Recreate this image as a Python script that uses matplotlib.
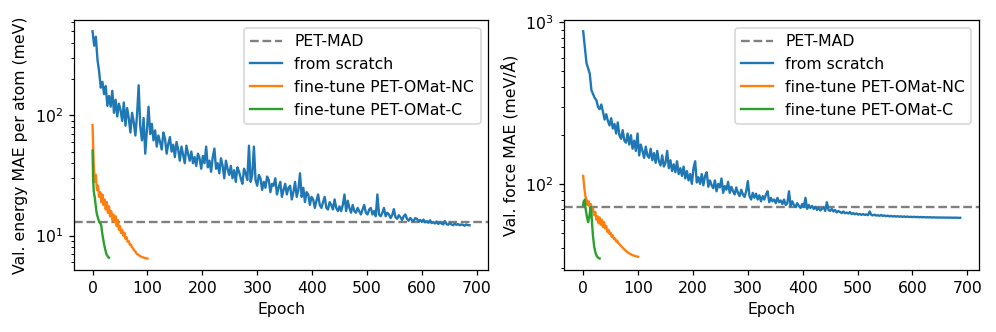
import numpy as np
import matplotlib
matplotlib.use("Agg")
import matplotlib.pyplot as plt

# epochs of the values
scratch_epochs = np.arange(0, 690, 3)
nc_epochs = np.arange(0, 101, 2)
c_epochs = np.arange(0, 31, 1)

# energy MAE per atom (meV)
pet_mad_energy = 13.0
energy_scratch = [
    500, 380, 450, 290, 230, 170, 190, 150, 175, 120,
    145, 118, 160, 105, 135, 98, 125, 110, 90, 128,
    82, 115, 95, 72, 105, 88, 68, 100, 178, 80,
    62, 95, 48, 75, 118, 70, 85, 62, 75, 55,
    68, 60, 52, 72, 64, 48, 58, 66, 50, 57,
    45, 60, 52, 42, 55, 47, 40, 56, 48, 42,
    50, 40, 45, 38, 48, 44, 36, 46, 40, 55,
    37, 42, 34, 45, 53, 36, 40, 33, 44, 38,
    30, 42, 36, 32, 38, 30, 35, 28, 37, 34,
    30, 27, 36, 33, 29, 56, 28, 32, 55, 29,
    26, 32, 30, 24, 28, 25, 31, 29, 23, 27,
    26, 30, 22, 25, 28, 21, 24, 27, 22, 25,
    26, 20, 23, 28, 21, 24, 33, 21, 25, 19,
    23, 22, 18, 21, 20, 17, 19.5, 22, 18, 17,
    19, 21, 17, 16.5, 19, 18, 16.5, 20, 17, 16,
    17.5, 16, 18, 22, 16, 19.5, 17, 15.5, 18, 16,
    15.5, 17, 16, 15, 16.5, 18, 15.5, 15, 16.5, 17,
    15, 16, 14.5, 22, 15, 14.5, 15.5, 17, 14.5, 15.5,
    15, 14, 14.8, 16.6, 14.2, 13.8, 14.8, 14.2, 13.5, 14.5,
    15, 13.8, 13.3, 14, 13.5, 13.2, 14, 13.8, 13.1, 13.5,
    13, 13.6, 12.9, 13.2, 12.8, 13.4, 12.7, 13, 12.6, 13.1,
    12.5, 12.9, 12.6, 12.4, 13.2, 12.5, 12.3, 12.7, 12.4, 12.2,
    12.6, 12.3, 12.5, 12.2, 12.4, 12.3, 12.1, 12.4, 12.2, 12.2,
]
energy_nc = [
    83, 40, 28, 32, 24, 26, 21, 23, 19, 22, 18, 20, 16.5, 19, 15.5, 17.5, 14.5,
    16, 13.5, 15, 13, 14.5, 12, 13.5, 11.2, 12, 10.5, 11.2, 10, 10.6, 9.4, 9.7,
    8.9, 9.0, 8.4, 8.4, 8.0, 7.8, 7.5, 7.4, 7.1, 7.0, 6.9, 6.8, 6.7, 6.65, 6.6,
    6.55, 6.5, 6.5, 6.45,
]
energy_c = [
    51, 30, 24, 22, 21, 19, 17.5, 16, 15, 14.5, 14, 13.5, 13, 12.8, 12.7, 12.5,
    12, 11, 10.2, 9.6, 9.0, 8.5, 8.1, 7.7, 7.4, 7.1, 6.9, 6.8, 6.7, 6.6, 6.55,
]

# force MAE (meV/Å)
pet_mad_force = 72.0
force_scratch = [
    880, 700, 560, 520, 480, 380, 360, 340, 330, 300,
    290, 310, 280, 250, 270, 245, 230, 255, 220, 235,
    205, 240, 200, 190, 215, 185, 180, 205, 175, 200,
    165, 185, 160, 205, 150, 175, 160, 145, 170, 150,
    145, 165, 140, 155, 135, 160, 138, 130, 150, 128,
    135, 160, 125, 140, 120, 132, 118, 138, 115, 125,
    112, 128, 108, 120, 105, 115, 100, 125, 138, 102,
    110, 100, 115, 98, 112, 118, 96, 105, 98, 94,
    105, 90, 100, 95, 108, 88, 97, 92, 103, 88,
    96, 90, 86, 95, 88, 84, 92, 86, 83, 90,
    104, 84, 80, 88, 82, 87, 80, 85, 78, 84,
    80, 86, 90, 77, 82, 78, 80, 76, 82, 77,
    79, 75, 80, 74, 76, 90, 73, 78, 74, 72,
    76, 73, 71, 75, 72, 82, 70, 74, 71, 73,
    70, 72, 69, 71, 68.5, 70, 72, 68, 77, 69,
    68, 70, 67.5, 69, 66.5, 68, 67, 66, 67.5, 65.8,
    66.5, 65.5, 67, 65, 66, 64.8, 65.6, 64.5, 65.2, 64.3,
    65, 64.2, 64.8, 64, 67.5, 64.2, 63.8, 64.5, 63.6, 64,
    63.4, 64.2, 63.3, 63.8, 63.1, 63.6, 62.9, 63.4, 62.8, 63.2,
    62.7, 63.1, 62.6, 63, 62.5, 62.9, 62.4, 62.8, 62.3, 62.6,
    62.3, 62.6, 62.2, 62.5, 62.1, 62.4, 62.1, 62.3, 62.0, 62.2,
    62.0, 62.2, 61.9, 62.1, 61.9, 62.0, 61.8, 62.0, 61.8, 61.9,
    61.8, 61.9, 61.7, 61.9, 61.7, 61.8, 61.7, 61.8, 61.6, 61.7,
]
force_nc = [
    112, 95, 84, 80, 74, 78, 72, 75, 68, 70, 64, 67, 60, 63, 57, 62, 56, 60, 54,
    58, 53, 55, 50.5, 52, 49, 50, 47, 48, 45.5, 46, 44, 44.5, 43, 42.5, 41.5, 41,
    40.3, 39.6, 39, 38.5, 38, 37.5, 37.1, 36.8, 36.5, 36.2, 36, 35.8, 35.6, 35.5,
    35.4,
]
force_c = [
    74, 78, 76, 80, 72, 68, 65, 62, 60, 58, 60, 62, 66, 70, 72, 66, 58, 52, 47,
    44, 41, 39.5, 38, 37, 36.3, 35.7, 35.3, 35, 34.8, 34.6, 34.5,
]

fig, axes = plt.subplots(1, 2, figsize=(996 / 113, 332 / 113), dpi=113)

panels = [
    (axes[0], pet_mad_energy, energy_scratch, energy_nc, energy_c,
     "Val. energy MAE per atom (meV)"),
    (axes[1], pet_mad_force, force_scratch, force_nc, force_c,
     "Val. force MAE (meV/Å)"),
]

for ax, ref, scratch, nc, c, ylabel in panels:
    ax.axhline(ref, color="gray", linestyle="--", label="PET-MAD")
    ax.plot(scratch_epochs, scratch, color="C0", label="from scratch")
    ax.plot(nc_epochs, nc, color="C1", label="fine-tune PET-OMat-NC")
    ax.plot(c_epochs, c, color="C2", label="fine-tune PET-OMat-C")
    ax.set_yscale("log")
    ax.set_xlabel("Epoch")
    ax.set_ylabel(ylabel)
    ax.legend(loc="upper right")

plt.subplots_adjust(left=0.074, right=0.983, bottom=0.187, top=0.94, wspace=0.183)
plt.savefig("out.png", dpi=113)
